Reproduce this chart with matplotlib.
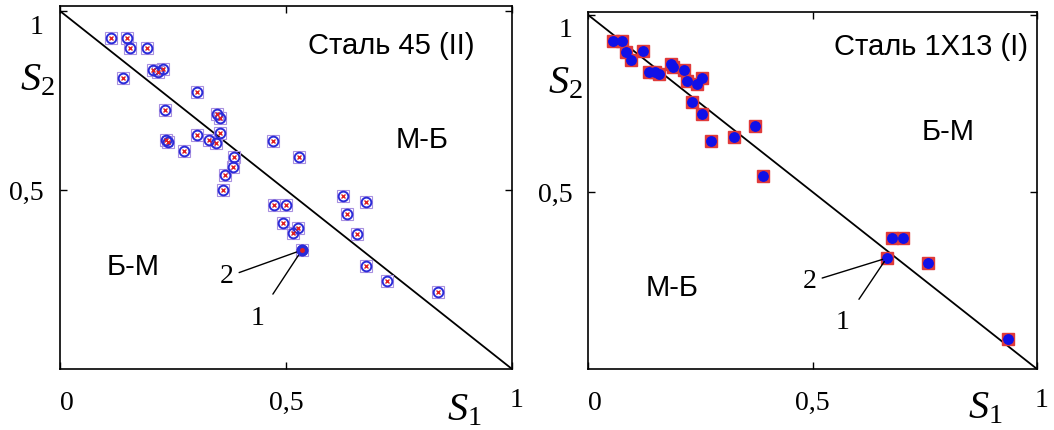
import numpy as np
import matplotlib
matplotlib.use("Agg")
import matplotlib.pyplot as plt
from matplotlib.transforms import ScaledTranslation

plt.rcParams['mathtext.fontset'] = 'custom'
plt.rcParams['mathtext.rm'] = 'Liberation Serif'
plt.rcParams['mathtext.it'] = 'Liberation Serif:italic'

# steel 45 (II): S1, S2
s45_x = [0.113, 0.149, 0.155, 0.192, 0.140, 0.205, 0.216, 0.227, 0.302, 0.232,
         0.348, 0.354, 0.354, 0.235, 0.240, 0.302, 0.330, 0.345, 0.274, 0.471,
         0.529, 0.386, 0.383, 0.365, 0.360, 0.474, 0.499, 0.494, 0.526, 0.516,
         0.535, 0.625, 0.676, 0.636, 0.658, 0.676, 0.723, 0.836]
s45_y = [0.925, 0.924, 0.898, 0.896, 0.812, 0.835, 0.830, 0.837, 0.773, 0.723,
         0.711, 0.700, 0.660, 0.640, 0.633, 0.654, 0.640, 0.632, 0.610, 0.637,
         0.591, 0.591, 0.563, 0.542, 0.500, 0.458, 0.459, 0.409, 0.393, 0.379,
         0.332, 0.484, 0.467, 0.432, 0.376, 0.288, 0.246, 0.214]
s45_mark = 30  # index of the point labelled 1, 2

# steel 1X13 (I)
s13_x = [0.056, 0.076, 0.084, 0.096, 0.123, 0.136, 0.149, 0.159, 0.184, 0.190,
         0.214, 0.220, 0.242, 0.255, 0.231, 0.253, 0.273, 0.325, 0.372, 0.390,
         0.678, 0.701, 0.665, 0.758, 0.936]
s13_y = [0.925, 0.925, 0.896, 0.873, 0.899, 0.840, 0.840, 0.833, 0.862, 0.854,
         0.843, 0.812, 0.805, 0.821, 0.753, 0.720, 0.644, 0.654, 0.686, 0.545,
         0.371, 0.371, 0.313, 0.300, 0.084]
s13_mark = 22

fig = plt.figure(figsize=(10.54, 4.30), dpi=100)
ax1 = fig.add_axes([60 / 1054, 61 / 430, 452 / 1054, 363 / 430])
ax2 = fig.add_axes([588 / 1054, 61 / 430, 449 / 1054, 357 / 430])

serif = 'Liberation Serif'
sans = 'Liberation Sans'


def setup(ax, ytop, ypad, shift1):
    ax.set_xlim(0, 1)
    ax.set_ylim(0, ytop)
    ax.plot([0, 1], [1, 0], color='black', lw=1.3, zorder=1)
    ax.set_xticks([0, 0.5, 1])
    ax.set_xticklabels(['0', '0,5', '1'])
    ax.set_yticks([0.5, 1])
    ax.set_yticklabels(['0,5', '1'])
    ax.tick_params(direction='in', length=5, width=1, top=True, right=True,
                   labelsize=20)
    ax.tick_params(axis='x', pad=16)
    ax.tick_params(axis='y', pad=ypad)
    for lab in ax.get_xticklabels() + ax.get_yticklabels():
        lab.set_fontfamily(serif)
    xl = ax.get_xticklabels()
    xl[0].set_transform(xl[0].get_transform() +
                        ScaledTranslation(0.07, 0, fig.dpi_scale_trans))
    xl[2].set_transform(xl[2].get_transform() +
                        ScaledTranslation(0.05, 0.03, fig.dpi_scale_trans))
    yl = ax.get_yticklabels()
    yl[1].set_transform(yl[1].get_transform() +
                        ScaledTranslation(0, -shift1, fig.dpi_scale_trans))
    for sp in ax.spines.values():
        sp.set_linewidth(1.2)


setup(ax1, 1.014, 12, 0.135)
setup(ax2, 1.008, 11, 0.125)

# left panel markers
ax1.plot(s45_x, s45_y, 's', ms=8, mfc='none', mec='#a890e0', mew=0.8, zorder=2)
ax1.plot(s45_x, s45_y, 'o', ms=7, mfc='none', mec='#2a2ad8', mew=1.4, zorder=3)
ax1.plot(s45_x, s45_y, 'x', ms=3.4, color='#e02020', mew=1.0, zorder=4)
ax1.plot(s45_x[s45_mark], s45_y[s45_mark], 'o', ms=7.5, mfc='#2a2ad8',
         mec='#2a2ad8', zorder=5)
ax1.plot(s45_x[s45_mark], s45_y[s45_mark], 'o', ms=2.5, color='#e02020', zorder=6)

# right panel markers
ax2.plot(s13_x, s13_y, 's', ms=8.3, mfc='#e03a3a', mec='#e03a3a', zorder=2)
ax2.plot(s13_x, s13_y, 'o', ms=6.8, mfc='#1010e8', mec='#1010e8', zorder=3)

# annotations
pt = (s45_x[s45_mark], s45_y[s45_mark])
ax1.annotate('2', xy=pt, xytext=(0.369, 0.257), fontsize=20, family=serif,
             ha='center', va='center',
             arrowprops=dict(arrowstyle='-', lw=1, color='black', shrinkA=2, shrinkB=3))
ax1.annotate('1', xy=pt, xytext=(0.436, 0.142), fontsize=20, family=serif,
             ha='center', va='center',
             arrowprops=dict(arrowstyle='-', lw=1, color='black', shrinkA=8, shrinkB=3))
pt = (s13_x[s13_mark], s13_y[s13_mark])
ax2.annotate('2', xy=pt, xytext=(0.494, 0.246), fontsize=20, family=serif,
             ha='center', va='center',
             arrowprops=dict(arrowstyle='-', lw=1, color='black', shrinkA=2, shrinkB=3))
ax2.annotate('1', xy=pt, xytext=(0.568, 0.130), fontsize=20, family=serif,
             ha='center', va='center',
             arrowprops=dict(arrowstyle='-', lw=1, color='black', shrinkA=8, shrinkB=3))

ax1.text(0.732, 0.902, 'Сталь 45 (II)', fontsize=21, family=sans, ha='center', va='center')
ax1.text(0.801, 0.640, 'М-Б', fontsize=21, family=sans, ha='center', va='center')
ax1.text(0.162, 0.285, 'Б-М', fontsize=21, family=sans, ha='center', va='center')
ax2.text(0.764, 0.910, 'Сталь 1Х13 (I)', fontsize=21, family=sans, ha='center', va='center')
ax2.text(0.802, 0.669, 'Б-М', fontsize=21, family=sans, ha='center', va='center')
ax2.text(0.187, 0.229, 'М-Б', fontsize=21, family=sans, ha='center', va='center')

# axis titles
for x, y in [(20, 90), (548, 93)]:
    fig.text(x / 1054, 1 - y / 430, r'$S_2$', fontsize=29, ha='left', va='baseline')
for x, y in [(447, 420), (968, 418)]:
    fig.text(x / 1054, 1 - y / 430, r'$S_1$', fontsize=29, ha='left', va='baseline')

fig.savefig('out.png', dpi=100)
